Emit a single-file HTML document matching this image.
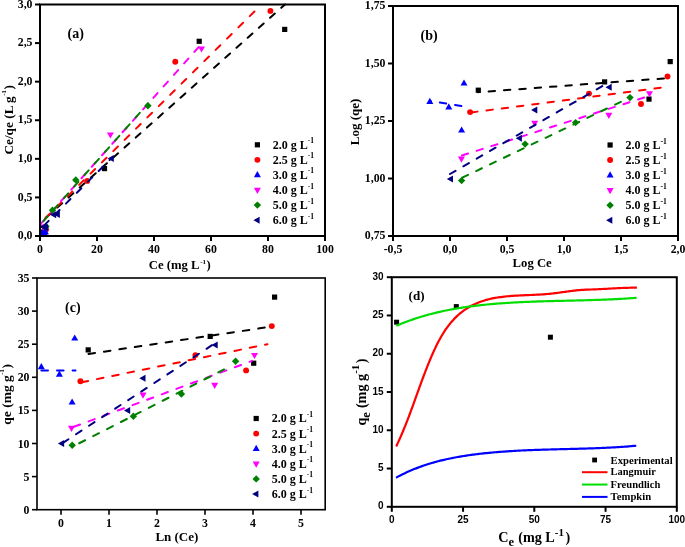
<!DOCTYPE html>
<html><head><meta charset="utf-8"><style>
html,body{margin:0;padding:0;background:#fff;}
svg{display:block;will-change:transform;}
</style></head><body>
<svg width="685" height="547" viewBox="0 0 685 547">
<rect width="685" height="547" fill="#fff"/>
<line x1="40.5" y1="222.5" x2="285" y2="4.5" stroke="#000000" stroke-width="2.0" stroke-dasharray="6.4,8.6" stroke-linecap="round" stroke-dashoffset="7.42"/>
<rect x="39.90" y="229.40" width="5.20" height="5.20" fill="#000000"/>
<rect x="101.90" y="166.00" width="5.20" height="5.20" fill="#000000"/>
<rect x="196.60" y="38.70" width="5.20" height="5.20" fill="#000000"/>
<rect x="282.10" y="26.80" width="5.20" height="5.20" fill="#000000"/>
<line x1="40.5" y1="223" x2="261" y2="5" stroke="#ff0000" stroke-width="2.0" stroke-dasharray="6.6,9.4" stroke-linecap="round" stroke-dashoffset="9.72"/>
<circle cx="46.00" cy="229.40" r="2.95" fill="#ff0000"/>
<circle cx="87.20" cy="180.90" r="2.95" fill="#ff0000"/>
<circle cx="175.30" cy="61.80" r="2.95" fill="#ff0000"/>
<circle cx="270.40" cy="10.90" r="2.95" fill="#ff0000"/>
<line x1="40.5" y1="233" x2="47" y2="229" stroke="#0000ff" stroke-width="2.0" stroke-dasharray="6.4,9.0" stroke-linecap="round"/>
<path d="M42.30,230.10 L45.80,236.30 L38.80,236.30 Z" fill="#0000ff"/>
<path d="M44.80,230.10 L48.30,236.30 L41.30,236.30 Z" fill="#0000ff"/>
<path d="M43.40,228.50 L46.90,234.70 L39.90,234.70 Z" fill="#0000ff"/>
<path d="M45.40,228.10 L48.90,234.30 L41.90,234.30 Z" fill="#0000ff"/>
<line x1="40.5" y1="224.1" x2="200" y2="45.6" stroke="#ff00ff" stroke-width="2.0" stroke-dasharray="6.4,9.0" stroke-linecap="round" stroke-dashoffset="0.06"/>
<path d="M43.50,230.70 L47.00,224.50 L40.00,224.50 Z" fill="#ff00ff"/>
<path d="M110.40,138.60 L113.90,132.40 L106.90,132.40 Z" fill="#ff00ff"/>
<path d="M201.50,52.60 L205.00,46.40 L198.00,46.40 Z" fill="#ff00ff"/>
<line x1="40.5" y1="224.5" x2="148" y2="103.6" stroke="#008000" stroke-width="2.0" stroke-dasharray="6.4,9.0" stroke-linecap="round" stroke-dashoffset="10.94"/>
<path d="M46.00,222.90 L49.70,226.60 L46.00,230.30 L42.30,226.60 Z" fill="#008000"/>
<path d="M52.50,206.60 L56.20,210.30 L52.50,214.00 L48.80,210.30 Z" fill="#008000"/>
<path d="M75.80,176.30 L79.50,180.00 L75.80,183.70 L72.10,180.00 Z" fill="#008000"/>
<path d="M147.90,102.00 L151.60,105.70 L147.90,109.40 L144.20,105.70 Z" fill="#008000"/>
<line x1="40.5" y1="229" x2="111" y2="158.6" stroke="#000080" stroke-width="2.0" stroke-dasharray="6.4,9.0" stroke-linecap="round" stroke-dashoffset="10.25"/>
<path d="M39.50,227.00 L45.70,223.50 L45.70,230.50 Z" fill="#000080"/>
<path d="M41.90,227.40 L48.10,223.90 L48.10,230.90 Z" fill="#000080"/>
<path d="M50.00,214.80 L56.20,211.30 L56.20,218.30 Z" fill="#000080"/>
<path d="M53.70,214.50 L59.90,211.00 L59.90,218.00 Z" fill="#000080"/>
<path d="M107.60,158.60 L113.80,155.10 L113.80,162.10 Z" fill="#000080"/>
<rect x="40" y="4.5" width="285" height="231.5" fill="none" stroke="#000" stroke-width="2"/>
<line x1="40.0" y1="236" x2="40.0" y2="241" stroke="#000" stroke-width="2"/>
<text x="40.0" y="253.1" font-family='"Liberation Serif", serif' font-size="11.8" font-weight="bold" text-anchor="middle" >0</text>
<line x1="97.0" y1="236" x2="97.0" y2="241" stroke="#000" stroke-width="2"/>
<text x="97.0" y="253.1" font-family='"Liberation Serif", serif' font-size="11.8" font-weight="bold" text-anchor="middle" >20</text>
<line x1="154.0" y1="236" x2="154.0" y2="241" stroke="#000" stroke-width="2"/>
<text x="154.0" y="253.1" font-family='"Liberation Serif", serif' font-size="11.8" font-weight="bold" text-anchor="middle" >40</text>
<line x1="211.0" y1="236" x2="211.0" y2="241" stroke="#000" stroke-width="2"/>
<text x="211.0" y="253.1" font-family='"Liberation Serif", serif' font-size="11.8" font-weight="bold" text-anchor="middle" >60</text>
<line x1="268.0" y1="236" x2="268.0" y2="241" stroke="#000" stroke-width="2"/>
<text x="268.0" y="253.1" font-family='"Liberation Serif", serif' font-size="11.8" font-weight="bold" text-anchor="middle" >80</text>
<line x1="325.0" y1="236" x2="325.0" y2="241" stroke="#000" stroke-width="2"/>
<text x="325.0" y="253.1" font-family='"Liberation Serif", serif' font-size="11.8" font-weight="bold" text-anchor="middle" >100</text>
<line x1="35" y1="236.0" x2="40" y2="236.0" stroke="#000" stroke-width="2"/>
<text x="32.5" y="239.112" font-family='"Liberation Serif", serif' font-size="11.8" font-weight="bold" text-anchor="end" >0,0</text>
<line x1="35" y1="197.41666666666666" x2="40" y2="197.41666666666666" stroke="#000" stroke-width="2"/>
<text x="32.5" y="200.52866666666665" font-family='"Liberation Serif", serif' font-size="11.8" font-weight="bold" text-anchor="end" >0,5</text>
<line x1="35" y1="158.83333333333331" x2="40" y2="158.83333333333331" stroke="#000" stroke-width="2"/>
<text x="32.5" y="161.9453333333333" font-family='"Liberation Serif", serif' font-size="11.8" font-weight="bold" text-anchor="end" >1,0</text>
<line x1="35" y1="120.25" x2="40" y2="120.25" stroke="#000" stroke-width="2"/>
<text x="32.5" y="123.362" font-family='"Liberation Serif", serif' font-size="11.8" font-weight="bold" text-anchor="end" >1,5</text>
<line x1="35" y1="81.66666666666666" x2="40" y2="81.66666666666666" stroke="#000" stroke-width="2"/>
<text x="32.5" y="84.77866666666665" font-family='"Liberation Serif", serif' font-size="11.8" font-weight="bold" text-anchor="end" >2,0</text>
<line x1="35" y1="43.08333333333334" x2="40" y2="43.08333333333334" stroke="#000" stroke-width="2"/>
<text x="32.5" y="46.195333333333345" font-family='"Liberation Serif", serif' font-size="11.8" font-weight="bold" text-anchor="end" >2,5</text>
<line x1="35" y1="4.5" x2="40" y2="4.5" stroke="#000" stroke-width="2"/>
<text x="32.5" y="7.612" font-family='"Liberation Serif", serif' font-size="11.8" font-weight="bold" text-anchor="end" >3,0</text>
<text x="67.5" y="38" font-family='"Liberation Serif", serif' font-size="14" font-weight="bold" text-anchor="start" >(a)</text>
<rect x="254.80" y="142.20" width="5.20" height="5.20" fill="#000000"/>
<text x="272.7" y="148.70000000000002" font-family='"Liberation Serif", serif' font-size="12" font-weight="bold" text-anchor="start" >2.0 g L<tspan dy="-5.4" font-size="7.6">-1</tspan></text>
<circle cx="257.40" cy="159.87" r="2.95" fill="#ff0000"/>
<text x="272.7" y="163.77" font-family='"Liberation Serif", serif' font-size="12" font-weight="bold" text-anchor="start" >2.5 g L<tspan dy="-5.4" font-size="7.6">-1</tspan></text>
<path d="M257.40,171.04 L260.90,177.24 L253.90,177.24 Z" fill="#0000ff"/>
<text x="272.7" y="178.84" font-family='"Liberation Serif", serif' font-size="12" font-weight="bold" text-anchor="start" >3.0 g L<tspan dy="-5.4" font-size="7.6">-1</tspan></text>
<path d="M257.40,194.01 L260.90,187.81 L253.90,187.81 Z" fill="#ff00ff"/>
<text x="272.7" y="193.91000000000003" font-family='"Liberation Serif", serif' font-size="12" font-weight="bold" text-anchor="start" >4.0 g L<tspan dy="-5.4" font-size="7.6">-1</tspan></text>
<path d="M257.40,201.38 L261.10,205.08 L257.40,208.78 L253.70,205.08 Z" fill="#008000"/>
<text x="272.7" y="208.98000000000002" font-family='"Liberation Serif", serif' font-size="12" font-weight="bold" text-anchor="start" >5.0 g L<tspan dy="-5.4" font-size="7.6">-1</tspan></text>
<path d="M253.40,220.15 L259.60,216.65 L259.60,223.65 Z" fill="#000080"/>
<text x="272.7" y="224.05" font-family='"Liberation Serif", serif' font-size="12" font-weight="bold" text-anchor="start" >6.0 g L<tspan dy="-5.4" font-size="7.6">-1</tspan></text>
<text x="148.8" y="268.6" font-family='"Liberation Serif", serif' font-size="12.7" font-weight="bold" text-anchor="start" >Ce (mg L<tspan dy="-4.8" font-size="7" dx="0.6">-1</tspan><tspan dy="4.8" dx="0.6">)</tspan></text>
<text x="13.2" y="154.6" font-family='"Liberation Serif", serif' font-size="13.3" font-weight="bold" text-anchor="start" transform="rotate(-90 13.2 154.6)">Ce/qe (L g<tspan dy="-7.4" font-size="6.8" dx="0.4">-1</tspan><tspan dy="7.4" dx="0.6">)</tspan></text>
<line x1="478" y1="92.2" x2="667" y2="78.2" stroke="#000000" stroke-width="2.0" stroke-dasharray="6.4,9.0" stroke-linecap="round" stroke-dashoffset="4.77"/>
<rect x="475.70" y="87.60" width="5.20" height="5.20" fill="#000000"/>
<rect x="602.00" y="79.30" width="5.20" height="5.20" fill="#000000"/>
<rect x="646.40" y="96.50" width="5.20" height="5.20" fill="#000000"/>
<rect x="667.60" y="59.00" width="5.20" height="5.20" fill="#000000"/>
<line x1="470" y1="112.6" x2="664" y2="87.3" stroke="#ff0000" stroke-width="2.0" stroke-dasharray="6.4,9.0" stroke-linecap="round" stroke-dashoffset="14.21"/>
<circle cx="470.10" cy="112.10" r="2.95" fill="#ff0000"/>
<circle cx="589.00" cy="93.60" r="2.95" fill="#ff0000"/>
<circle cx="641.00" cy="104.00" r="2.95" fill="#ff0000"/>
<circle cx="667.50" cy="76.50" r="2.95" fill="#ff0000"/>
<line x1="430" y1="101" x2="463" y2="106.3" stroke="#0000ff" stroke-width="2.0" stroke-dasharray="6.4,9.0" stroke-linecap="round" stroke-dashoffset="5.45"/>
<path d="M429.80,97.80 L433.30,104.00 L426.30,104.00 Z" fill="#0000ff"/>
<path d="M448.80,103.20 L452.30,109.40 L445.30,109.40 Z" fill="#0000ff"/>
<path d="M464.00,79.40 L467.50,85.60 L460.50,85.60 Z" fill="#0000ff"/>
<path d="M461.60,126.40 L465.10,132.60 L458.10,132.60 Z" fill="#0000ff"/>
<line x1="461" y1="155.8" x2="651" y2="95.4" stroke="#ff00ff" stroke-width="2.0" stroke-dasharray="6.4,9.0" stroke-linecap="round" stroke-dashoffset="14.40"/>
<path d="M461.40,162.80 L464.90,156.60 L457.90,156.60 Z" fill="#ff00ff"/>
<path d="M534.70,126.90 L538.20,120.70 L531.20,120.70 Z" fill="#ff00ff"/>
<path d="M608.80,118.90 L612.30,112.70 L605.30,112.70 Z" fill="#ff00ff"/>
<path d="M649.50,97.40 L653.00,91.20 L646.00,91.20 Z" fill="#ff00ff"/>
<line x1="460.5" y1="178.5" x2="630" y2="97.5" stroke="#008000" stroke-width="2.0" stroke-dasharray="6.4,9.0" stroke-linecap="round" stroke-dashoffset="13.47"/>
<path d="M461.60,176.90 L465.30,180.60 L461.60,184.30 L457.90,180.60 Z" fill="#008000"/>
<path d="M525.10,140.40 L528.80,144.10 L525.10,147.80 L521.40,144.10 Z" fill="#008000"/>
<path d="M575.60,118.90 L579.30,122.60 L575.60,126.30 L571.90,122.60 Z" fill="#008000"/>
<path d="M630.00,93.90 L633.70,97.60 L630.00,101.30 L626.30,97.60 Z" fill="#008000"/>
<line x1="450" y1="174" x2="606" y2="84" stroke="#000080" stroke-width="2.0" stroke-dasharray="6.4,9.0" stroke-linecap="round"/>
<path d="M446.80,179.10 L453.00,175.60 L453.00,182.60 Z" fill="#000080"/>
<path d="M515.70,138.20 L521.90,134.70 L521.90,141.70 Z" fill="#000080"/>
<path d="M531.10,109.90 L537.30,106.40 L537.30,113.40 Z" fill="#000080"/>
<path d="M605.50,87.20 L611.70,83.70 L611.70,90.70 Z" fill="#000080"/>
<rect x="393" y="6" width="285" height="230" fill="none" stroke="#000" stroke-width="2"/>
<line x1="393.0" y1="236" x2="393.0" y2="241" stroke="#000" stroke-width="2"/>
<text x="393.0" y="253.1" font-family='"Liberation Serif", serif' font-size="11.8" font-weight="bold" text-anchor="middle" >-0,5</text>
<line x1="450.0" y1="236" x2="450.0" y2="241" stroke="#000" stroke-width="2"/>
<text x="450.0" y="253.1" font-family='"Liberation Serif", serif' font-size="11.8" font-weight="bold" text-anchor="middle" >0,0</text>
<line x1="507.0" y1="236" x2="507.0" y2="241" stroke="#000" stroke-width="2"/>
<text x="507.0" y="253.1" font-family='"Liberation Serif", serif' font-size="11.8" font-weight="bold" text-anchor="middle" >0,5</text>
<line x1="564.0" y1="236" x2="564.0" y2="241" stroke="#000" stroke-width="2"/>
<text x="564.0" y="253.1" font-family='"Liberation Serif", serif' font-size="11.8" font-weight="bold" text-anchor="middle" >1,0</text>
<line x1="621.0" y1="236" x2="621.0" y2="241" stroke="#000" stroke-width="2"/>
<text x="621.0" y="253.1" font-family='"Liberation Serif", serif' font-size="11.8" font-weight="bold" text-anchor="middle" >1,5</text>
<line x1="678.0" y1="236" x2="678.0" y2="241" stroke="#000" stroke-width="2"/>
<text x="678.0" y="253.1" font-family='"Liberation Serif", serif' font-size="11.8" font-weight="bold" text-anchor="middle" >2,0</text>
<line x1="388" y1="236.0" x2="393" y2="236.0" stroke="#000" stroke-width="2"/>
<text x="385.5" y="239.112" font-family='"Liberation Serif", serif' font-size="11.8" font-weight="bold" text-anchor="end" >0,75</text>
<line x1="388" y1="178.5" x2="393" y2="178.5" stroke="#000" stroke-width="2"/>
<text x="385.5" y="181.612" font-family='"Liberation Serif", serif' font-size="11.8" font-weight="bold" text-anchor="end" >1,00</text>
<line x1="388" y1="121.0" x2="393" y2="121.0" stroke="#000" stroke-width="2"/>
<text x="385.5" y="124.112" font-family='"Liberation Serif", serif' font-size="11.8" font-weight="bold" text-anchor="end" >1,25</text>
<line x1="388" y1="63.5" x2="393" y2="63.5" stroke="#000" stroke-width="2"/>
<text x="385.5" y="66.612" font-family='"Liberation Serif", serif' font-size="11.8" font-weight="bold" text-anchor="end" >1,50</text>
<line x1="388" y1="6.0" x2="393" y2="6.0" stroke="#000" stroke-width="2"/>
<text x="385.5" y="9.112" font-family='"Liberation Serif", serif' font-size="11.8" font-weight="bold" text-anchor="end" >1,75</text>
<text x="420.5" y="39.5" font-family='"Liberation Serif", serif' font-size="14" font-weight="bold" text-anchor="start" >(b)</text>
<rect x="607.50" y="142.40" width="5.20" height="5.20" fill="#000000"/>
<text x="625.4" y="148.9" font-family='"Liberation Serif", serif' font-size="12" font-weight="bold" text-anchor="start" >2.0 g L<tspan dy="-5.4" font-size="7.6">-1</tspan></text>
<circle cx="610.10" cy="160.07" r="2.95" fill="#ff0000"/>
<text x="625.4" y="163.97" font-family='"Liberation Serif", serif' font-size="12" font-weight="bold" text-anchor="start" >2.5 g L<tspan dy="-5.4" font-size="7.6">-1</tspan></text>
<path d="M610.10,171.24 L613.60,177.44 L606.60,177.44 Z" fill="#0000ff"/>
<text x="625.4" y="179.04" font-family='"Liberation Serif", serif' font-size="12" font-weight="bold" text-anchor="start" >3.0 g L<tspan dy="-5.4" font-size="7.6">-1</tspan></text>
<path d="M610.10,194.21 L613.60,188.01 L606.60,188.01 Z" fill="#ff00ff"/>
<text x="625.4" y="194.11" font-family='"Liberation Serif", serif' font-size="12" font-weight="bold" text-anchor="start" >4.0 g L<tspan dy="-5.4" font-size="7.6">-1</tspan></text>
<path d="M610.10,201.58 L613.80,205.28 L610.10,208.98 L606.40,205.28 Z" fill="#008000"/>
<text x="625.4" y="209.18" font-family='"Liberation Serif", serif' font-size="12" font-weight="bold" text-anchor="start" >5.0 g L<tspan dy="-5.4" font-size="7.6">-1</tspan></text>
<path d="M606.10,220.35 L612.30,216.85 L612.30,223.85 Z" fill="#000080"/>
<text x="625.4" y="224.25" font-family='"Liberation Serif", serif' font-size="12" font-weight="bold" text-anchor="start" >6.0 g L<tspan dy="-5.4" font-size="7.6">-1</tspan></text>
<text x="512.6" y="266.9" font-family='"Liberation Serif", serif' font-size="12.7" font-weight="bold" text-anchor="start" >Log Ce</text>
<text x="359" y="145.2" font-family='"Liberation Serif", serif' font-size="13" font-weight="bold" text-anchor="start" transform="rotate(-90 359 145.2)">Log (qe)</text>
<line x1="88.2" y1="354" x2="272" y2="326.5" stroke="#000000" stroke-width="2.0" stroke-dasharray="6.6,9.0" stroke-linecap="round" stroke-dashoffset="15.28"/>
<rect x="85.60" y="347.30" width="5.20" height="5.20" fill="#000000"/>
<rect x="207.60" y="333.80" width="5.20" height="5.20" fill="#000000"/>
<rect x="251.10" y="360.60" width="5.20" height="5.20" fill="#000000"/>
<rect x="272.00" y="294.50" width="5.20" height="5.20" fill="#000000"/>
<line x1="80.4" y1="382.5" x2="267.5" y2="344.2" stroke="#ff0000" stroke-width="2.0" stroke-dasharray="6.6,9.0" stroke-linecap="round" stroke-dashoffset="14.31"/>
<circle cx="80.40" cy="381.20" r="2.95" fill="#ff0000"/>
<circle cx="195.40" cy="355.10" r="2.95" fill="#ff0000"/>
<circle cx="246.10" cy="370.40" r="2.95" fill="#ff0000"/>
<circle cx="271.80" cy="326.10" r="2.95" fill="#ff0000"/>
<line x1="40.5" y1="370.5" x2="75.5" y2="370.5" stroke="#0000ff" stroke-width="2.0" stroke-dasharray="6.6,9.0" stroke-linecap="round" stroke-dashoffset="14.70"/>
<path d="M74.70,334.40 L78.20,340.60 L71.20,340.60 Z" fill="#0000ff"/>
<path d="M41.30,363.10 L44.80,369.30 L37.80,369.30 Z" fill="#0000ff"/>
<path d="M59.40,370.50 L62.90,376.70 L55.90,376.70 Z" fill="#0000ff"/>
<path d="M72.10,398.40 L75.60,404.60 L68.60,404.60 Z" fill="#0000ff"/>
<line x1="71.5" y1="427.7" x2="252" y2="360.9" stroke="#ff00ff" stroke-width="2.0" stroke-dasharray="6.6,9.0" stroke-linecap="round" stroke-dashoffset="13.01"/>
<path d="M71.50,432.00 L75.00,425.80 L68.00,425.80 Z" fill="#ff00ff"/>
<path d="M143.00,398.70 L146.50,392.50 L139.50,392.50 Z" fill="#ff00ff"/>
<path d="M214.70,388.90 L218.20,382.70 L211.20,382.70 Z" fill="#ff00ff"/>
<path d="M254.50,359.10 L258.00,352.90 L251.00,352.90 Z" fill="#ff00ff"/>
<line x1="71.5" y1="447.2" x2="232" y2="365.4" stroke="#008000" stroke-width="2.0" stroke-dasharray="6.6,9.0" stroke-linecap="round" stroke-dashoffset="6.91"/>
<path d="M72.20,441.60 L75.90,445.30 L72.20,449.00 L68.50,445.30 Z" fill="#008000"/>
<path d="M133.40,412.60 L137.10,416.30 L133.40,420.00 L129.70,416.30 Z" fill="#008000"/>
<path d="M181.40,390.30 L185.10,394.00 L181.40,397.70 L177.70,394.00 Z" fill="#008000"/>
<path d="M235.60,357.50 L239.30,361.20 L235.60,364.90 L231.90,361.20 Z" fill="#008000"/>
<line x1="61" y1="444.1" x2="212" y2="345.2" stroke="#000080" stroke-width="2.0" stroke-dasharray="6.6,9.0" stroke-linecap="round" stroke-dashoffset="13.28"/>
<path d="M57.90,443.60 L64.10,440.10 L64.10,447.10 Z" fill="#000080"/>
<path d="M124.00,410.60 L130.20,407.10 L130.20,414.10 Z" fill="#000080"/>
<path d="M139.30,378.20 L145.50,374.70 L145.50,381.70 Z" fill="#000080"/>
<path d="M211.50,345.10 L217.70,341.60 L217.70,348.60 Z" fill="#000080"/>
<rect x="37" y="278" width="288.2" height="231.7" fill="none" stroke="#000" stroke-width="1.6"/>
<line x1="61" y1="509.7" x2="61" y2="514.7" stroke="#000" stroke-width="1.6"/>
<text x="61" y="527" font-family='"Liberation Serif", serif' font-size="11.8" font-weight="bold" text-anchor="middle" >0</text>
<line x1="109" y1="509.7" x2="109" y2="514.7" stroke="#000" stroke-width="1.6"/>
<text x="109" y="527" font-family='"Liberation Serif", serif' font-size="11.8" font-weight="bold" text-anchor="middle" >1</text>
<line x1="157" y1="509.7" x2="157" y2="514.7" stroke="#000" stroke-width="1.6"/>
<text x="157" y="527" font-family='"Liberation Serif", serif' font-size="11.8" font-weight="bold" text-anchor="middle" >2</text>
<line x1="205" y1="509.7" x2="205" y2="514.7" stroke="#000" stroke-width="1.6"/>
<text x="205" y="527" font-family='"Liberation Serif", serif' font-size="11.8" font-weight="bold" text-anchor="middle" >3</text>
<line x1="253" y1="509.7" x2="253" y2="514.7" stroke="#000" stroke-width="1.6"/>
<text x="253" y="527" font-family='"Liberation Serif", serif' font-size="11.8" font-weight="bold" text-anchor="middle" >4</text>
<line x1="301" y1="509.7" x2="301" y2="514.7" stroke="#000" stroke-width="1.6"/>
<text x="301" y="527" font-family='"Liberation Serif", serif' font-size="11.8" font-weight="bold" text-anchor="middle" >5</text>
<line x1="32" y1="509.7" x2="37" y2="509.7" stroke="#000" stroke-width="1.6"/>
<text x="29.5" y="513.712" font-family='"Liberation Serif", serif' font-size="11.8" font-weight="bold" text-anchor="end" >0</text>
<line x1="32" y1="476.59999999999997" x2="37" y2="476.59999999999997" stroke="#000" stroke-width="1.6"/>
<text x="29.5" y="480.61199999999997" font-family='"Liberation Serif", serif' font-size="11.8" font-weight="bold" text-anchor="end" >5</text>
<line x1="32" y1="443.5" x2="37" y2="443.5" stroke="#000" stroke-width="1.6"/>
<text x="29.5" y="447.512" font-family='"Liberation Serif", serif' font-size="11.8" font-weight="bold" text-anchor="end" >10</text>
<line x1="32" y1="410.4" x2="37" y2="410.4" stroke="#000" stroke-width="1.6"/>
<text x="29.5" y="414.412" font-family='"Liberation Serif", serif' font-size="11.8" font-weight="bold" text-anchor="end" >15</text>
<line x1="32" y1="377.29999999999995" x2="37" y2="377.29999999999995" stroke="#000" stroke-width="1.6"/>
<text x="29.5" y="381.31199999999995" font-family='"Liberation Serif", serif' font-size="11.8" font-weight="bold" text-anchor="end" >20</text>
<line x1="32" y1="344.2" x2="37" y2="344.2" stroke="#000" stroke-width="1.6"/>
<text x="29.5" y="348.212" font-family='"Liberation Serif", serif' font-size="11.8" font-weight="bold" text-anchor="end" >25</text>
<line x1="32" y1="311.1" x2="37" y2="311.1" stroke="#000" stroke-width="1.6"/>
<text x="29.5" y="315.112" font-family='"Liberation Serif", serif' font-size="11.8" font-weight="bold" text-anchor="end" >30</text>
<line x1="32" y1="278.0" x2="37" y2="278.0" stroke="#000" stroke-width="1.6"/>
<text x="29.5" y="282.012" font-family='"Liberation Serif", serif' font-size="11.8" font-weight="bold" text-anchor="end" >35</text>
<text x="65" y="312" font-family='"Liberation Serif", serif' font-size="14" font-weight="bold" text-anchor="start" >(c)</text>
<rect x="253.60" y="415.90" width="5.20" height="5.20" fill="#000000"/>
<text x="271.8" y="422.4" font-family='"Liberation Serif", serif' font-size="12" font-weight="bold" text-anchor="start" >2.0 g L<tspan dy="-5.4" font-size="7.6">-1</tspan></text>
<circle cx="256.20" cy="433.60" r="2.95" fill="#ff0000"/>
<text x="271.8" y="437.5" font-family='"Liberation Serif", serif' font-size="12" font-weight="bold" text-anchor="start" >2.5 g L<tspan dy="-5.4" font-size="7.6">-1</tspan></text>
<path d="M256.20,444.80 L259.70,451.00 L252.70,451.00 Z" fill="#0000ff"/>
<text x="271.8" y="452.59999999999997" font-family='"Liberation Serif", serif' font-size="12" font-weight="bold" text-anchor="start" >3.0 g L<tspan dy="-5.4" font-size="7.6">-1</tspan></text>
<path d="M256.20,467.80 L259.70,461.60 L252.70,461.60 Z" fill="#ff00ff"/>
<text x="271.8" y="467.7" font-family='"Liberation Serif", serif' font-size="12" font-weight="bold" text-anchor="start" >4.0 g L<tspan dy="-5.4" font-size="7.6">-1</tspan></text>
<path d="M256.20,475.20 L259.90,478.90 L256.20,482.60 L252.50,478.90 Z" fill="#008000"/>
<text x="271.8" y="482.79999999999995" font-family='"Liberation Serif", serif' font-size="12" font-weight="bold" text-anchor="start" >5.0 g L<tspan dy="-5.4" font-size="7.6">-1</tspan></text>
<path d="M252.20,494.00 L258.40,490.50 L258.40,497.50 Z" fill="#000080"/>
<text x="271.8" y="497.9" font-family='"Liberation Serif", serif' font-size="12" font-weight="bold" text-anchor="start" >6.0 g L<tspan dy="-5.4" font-size="7.6">-1</tspan></text>
<text x="155.4" y="540.7" font-family='"Liberation Serif", serif' font-size="13" font-weight="bold" text-anchor="start" >Ln (Ce)</text>
<text x="11.4" y="424.7" font-family='"Liberation Serif", serif' font-size="13.5" font-weight="bold" text-anchor="start" transform="rotate(-90 11.4 424.7)">qe (mg g<tspan dy="-7.4" font-size="6.8" dx="0.4">-1</tspan><tspan dy="7.4" dx="0.6">)</tspan></text>
<rect x="394.10" y="319.70" width="5.00" height="5.00" fill="#000000"/>
<rect x="453.80" y="304.10" width="5.00" height="5.00" fill="#000000"/>
<rect x="547.90" y="334.70" width="5.00" height="5.00" fill="#000000"/>
<path d="M396.22,446.43 C396.41,446.03 396.98,444.84 397.35,444.04 C397.72,443.25 398.09,442.46 398.45,441.66 C398.81,440.87 399.17,440.06 399.53,439.27 C399.88,438.47 400.23,437.68 400.58,436.89 C400.93,436.10 401.27,435.31 401.61,434.52 C401.95,433.73 402.28,432.94 402.61,432.15 C402.94,431.36 403.27,430.57 403.6,429.78 C403.93,428.99 404.25,428.20 404.57,427.41 C404.89,426.62 405.20,425.84 405.52,425.05 C405.83,424.26 406.15,423.47 406.46,422.68 C406.77,421.89 407.08,421.12 407.38,420.33 C407.68,419.54 407.98,418.76 408.28,417.97 C408.58,417.18 408.88,416.40 409.18,415.61 C409.48,414.82 409.77,414.04 410.06,413.26 C410.35,412.48 410.65,411.69 410.94,410.91 C411.23,410.13 411.51,409.34 411.8,408.56 C412.09,407.78 412.38,406.99 412.66,406.21 C412.95,405.43 413.23,404.64 413.51,403.86 C413.79,403.08 414.08,402.29 414.36,401.51 C414.64,400.73 414.93,399.94 415.21,399.16 C415.49,398.38 415.77,397.59 416.05,396.81 C416.33,396.03 416.61,395.24 416.89,394.46 C417.17,393.68 417.46,392.89 417.74,392.11 C418.02,391.33 418.30,390.54 418.58,389.76 C418.86,388.98 419.14,388.19 419.43,387.41 C419.72,386.63 420.00,385.85 420.29,385.06 C420.58,384.27 420.86,383.49 421.15,382.7 C421.44,381.91 421.72,381.13 422.01,380.35 C422.30,379.57 422.60,378.78 422.89,377.99 C423.18,377.20 423.47,376.42 423.77,375.63 C424.07,374.84 424.37,374.06 424.67,373.27 C424.97,372.48 425.27,371.70 425.58,370.91 C425.88,370.12 426.19,369.33 426.5,368.54 C426.81,367.75 427.12,366.96 427.44,366.17 C427.75,365.38 428.07,364.59 428.39,363.8 C428.71,363.01 429.04,362.21 429.37,361.42 C429.70,360.63 430.03,359.83 430.36,359.04 C430.69,358.25 431.03,357.45 431.37,356.66 C431.71,355.87 432.05,355.07 432.4,354.28 C432.75,353.49 433.10,352.69 433.46,351.9 C433.82,351.11 434.18,350.33 434.55,349.54 C434.92,348.75 435.28,347.96 435.66,347.18 C436.04,346.40 436.42,345.62 436.81,344.84 C437.20,344.06 437.59,343.29 437.99,342.52 C438.39,341.75 438.79,340.99 439.2,340.23 C439.61,339.47 440.03,338.71 440.45,337.96 C440.87,337.21 441.30,336.46 441.74,335.72 C442.18,334.98 442.63,334.25 443.08,333.52 C443.53,332.79 443.98,332.07 444.45,331.36 C444.92,330.65 445.40,329.94 445.88,329.24 C446.36,328.54 446.85,327.84 447.35,327.16 C447.85,326.48 448.36,325.81 448.87,325.14 C449.38,324.47 449.91,323.82 450.44,323.17 C450.97,322.52 451.52,321.88 452.07,321.25 C452.62,320.62 453.18,320.01 453.75,319.4 C454.32,318.79 454.90,318.19 455.49,317.61 C456.08,317.03 456.68,316.45 457.29,315.89 C457.90,315.33 458.52,314.78 459.15,314.24 C459.78,313.70 460.41,313.18 461.05,312.66 C461.69,312.15 462.35,311.64 463.01,311.15 C463.67,310.66 464.34,310.18 465.02,309.71 C465.70,309.24 466.38,308.79 467.08,308.35 C467.77,307.91 468.48,307.48 469.19,307.06 C469.90,306.64 470.62,306.23 471.34,305.84 C472.06,305.45 472.79,305.07 473.53,304.71 C474.27,304.34 475.02,303.99 475.77,303.65 C476.52,303.31 477.29,302.99 478.05,302.68 C478.81,302.37 479.58,302.07 480.36,301.79 C481.14,301.51 481.92,301.24 482.71,300.98 C483.50,300.72 484.29,300.48 485.09,300.24 C485.89,300.00 486.70,299.78 487.51,299.57 C488.32,299.36 489.13,299.16 489.95,298.97 C490.77,298.78 491.59,298.60 492.41,298.43 C493.23,298.26 494.06,298.10 494.89,297.95 C495.72,297.80 496.55,297.65 497.39,297.52 C498.23,297.38 499.07,297.26 499.91,297.14 C500.75,297.02 501.60,296.91 502.44,296.81 C503.28,296.71 504.13,296.61 504.98,296.52 C505.83,296.43 506.67,296.35 507.52,296.27 C508.37,296.19 509.22,296.12 510.07,296.05 C510.92,295.98 511.78,295.92 512.63,295.86 C513.48,295.80 514.33,295.74 515.18,295.69 C516.03,295.64 516.88,295.59 517.74,295.54 C518.60,295.50 519.45,295.46 520.31,295.42 C521.16,295.38 522.02,295.34 522.87,295.3 C523.72,295.26 524.57,295.23 525.43,295.19 C526.28,295.15 527.14,295.12 528.0,295.09 C528.86,295.05 529.72,295.02 530.57,294.98 C531.43,294.94 532.28,294.91 533.13,294.87 C533.98,294.83 534.84,294.80 535.69,294.76 C536.54,294.72 537.40,294.68 538.25,294.63 C539.10,294.58 539.96,294.53 540.81,294.48 C541.66,294.43 542.52,294.38 543.37,294.32 C544.22,294.26 545.07,294.20 545.92,294.13 C546.77,294.06 547.61,293.99 548.46,293.91 C549.31,293.83 550.15,293.74 551.0,293.65 C551.85,293.56 552.69,293.47 553.54,293.37 C554.38,293.27 555.23,293.16 556.07,293.05 C556.91,292.94 557.76,292.83 558.6,292.72 C559.44,292.61 560.28,292.49 561.12,292.37 C561.96,292.25 562.80,292.13 563.64,292.01 C564.48,291.89 565.31,291.78 566.15,291.66 C566.99,291.54 567.82,291.42 568.66,291.31 C569.50,291.20 570.33,291.09 571.17,290.98 C572.01,290.88 572.84,290.78 573.68,290.68 C574.51,290.58 575.35,290.49 576.18,290.4 C577.01,290.31 577.84,290.23 578.68,290.16 C579.51,290.09 580.36,290.02 581.19,289.96 C582.03,289.90 582.86,289.85 583.69,289.8 C584.52,289.75 585.36,289.72 586.19,289.68 C587.02,289.64 587.86,289.61 588.69,289.58 C589.53,289.55 590.37,289.52 591.2,289.49 C592.04,289.46 592.87,289.43 593.7,289.4 C594.54,289.37 595.37,289.34 596.21,289.3 C597.05,289.26 597.88,289.23 598.72,289.19 C599.56,289.15 600.39,289.11 601.23,289.07 C602.07,289.03 602.90,288.98 603.74,288.93 C604.58,288.88 605.42,288.84 606.26,288.79 C607.10,288.74 607.94,288.70 608.78,288.65 C609.62,288.60 610.47,288.55 611.31,288.5 C612.15,288.45 613.00,288.41 613.84,288.36 C614.69,288.31 615.53,288.27 616.38,288.23 C617.23,288.19 618.07,288.14 618.92,288.1 C619.77,288.06 620.62,288.03 621.47,287.99 C622.32,287.95 623.17,287.92 624.02,287.89 C624.87,287.86 625.73,287.82 626.58,287.8 C627.44,287.78 628.29,287.75 629.15,287.74 C630.01,287.73 630.87,287.72 631.73,287.71 C632.59,287.70 633.45,287.70 634.31,287.7 C635.17,287.70 636.48,287.72 636.91,287.72" fill="none" stroke="#ff0000" stroke-width="2.2" stroke-linecap="butt"/>
<path d="M396.28,325.83 C396.68,325.66 397.87,325.15 398.66,324.82 C399.45,324.49 400.25,324.16 401.04,323.84 C401.84,323.52 402.63,323.20 403.43,322.89 C404.23,322.58 405.02,322.27 405.82,321.97 C406.62,321.67 407.42,321.36 408.22,321.07 C409.02,320.78 409.82,320.49 410.62,320.21 C411.42,319.93 412.23,319.64 413.03,319.37 C413.83,319.10 414.63,318.83 415.44,318.56 C416.25,318.29 417.05,318.03 417.86,317.77 C418.67,317.51 419.47,317.27 420.28,317.02 C421.09,316.77 421.90,316.52 422.71,316.28 C423.52,316.04 424.33,315.81 425.14,315.58 C425.95,315.35 426.77,315.12 427.58,314.89 C428.39,314.66 429.20,314.44 430.02,314.23 C430.83,314.02 431.65,313.81 432.47,313.6 C433.29,313.39 434.10,313.18 434.92,312.98 C435.74,312.78 436.55,312.58 437.37,312.39 C438.19,312.20 439.01,312.01 439.83,311.83 C440.65,311.64 441.47,311.46 442.29,311.28 C443.11,311.10 443.94,310.92 444.76,310.75 C445.58,310.58 446.41,310.42 447.23,310.25 C448.05,310.08 448.88,309.92 449.7,309.76 C450.52,309.60 451.35,309.44 452.18,309.29 C453.01,309.14 453.83,309.00 454.66,308.85 C455.49,308.71 456.32,308.56 457.15,308.42 C457.98,308.28 458.80,308.13 459.63,308.0 C460.46,307.87 461.29,307.74 462.12,307.61 C462.95,307.48 463.79,307.35 464.62,307.23 C465.45,307.11 466.29,306.99 467.12,306.87 C467.95,306.75 468.79,306.64 469.62,306.53 C470.45,306.42 471.29,306.30 472.12,306.19 C472.95,306.08 473.79,305.98 474.62,305.88 C475.45,305.78 476.29,305.68 477.13,305.58 C477.97,305.48 478.80,305.38 479.64,305.29 C480.48,305.20 481.32,305.11 482.16,305.02 C483.00,304.93 483.83,304.84 484.67,304.75 C485.51,304.66 486.35,304.58 487.19,304.5 C488.03,304.42 488.87,304.35 489.71,304.27 C490.55,304.19 491.40,304.12 492.24,304.04 C493.08,303.97 493.92,303.89 494.76,303.82 C495.60,303.75 496.45,303.69 497.29,303.62 C498.13,303.55 498.98,303.48 499.82,303.42 C500.66,303.36 501.51,303.30 502.35,303.24 C503.19,303.18 504.04,303.12 504.88,303.06 C505.72,303.00 506.57,302.95 507.41,302.9 C508.25,302.85 509.11,302.79 509.95,302.74 C510.79,302.69 511.63,302.64 512.48,302.59 C513.33,302.54 514.17,302.50 515.02,302.45 C515.87,302.40 516.71,302.35 517.56,302.31 C518.41,302.27 519.25,302.23 520.1,302.19 C520.95,302.15 521.79,302.11 522.64,302.07 C523.49,302.03 524.34,301.99 525.19,301.95 C526.04,301.91 526.88,301.88 527.73,301.85 C528.58,301.82 529.42,301.78 530.27,301.75 C531.12,301.72 531.97,301.68 532.82,301.65 C533.67,301.62 534.51,301.59 535.36,301.56 C536.21,301.53 537.06,301.50 537.91,301.47 C538.76,301.44 539.60,301.42 540.45,301.39 C541.30,301.36 542.15,301.33 543.0,301.31 C543.85,301.29 544.70,301.26 545.55,301.24 C546.40,301.22 547.24,301.19 548.09,301.17 C548.94,301.15 549.79,301.12 550.64,301.1 C551.49,301.08 552.34,301.05 553.19,301.03 C554.04,301.01 554.88,300.99 555.73,300.97 C556.58,300.95 557.43,300.93 558.28,300.91 C559.13,300.89 559.98,300.87 560.83,300.85 C561.68,300.83 562.52,300.81 563.37,300.79 C564.22,300.77 565.07,300.75 565.92,300.73 C566.77,300.71 567.61,300.69 568.46,300.67 C569.31,300.65 570.15,300.63 571.0,300.61 C571.85,300.59 572.70,300.57 573.55,300.55 C574.40,300.53 575.24,300.51 576.09,300.49 C576.94,300.47 577.78,300.45 578.63,300.43 C579.48,300.41 580.32,300.38 581.17,300.36 C582.02,300.34 582.86,300.32 583.71,300.3 C584.56,300.28 585.40,300.25 586.25,300.23 C587.10,300.21 587.93,300.18 588.78,300.16 C589.62,300.14 590.48,300.12 591.32,300.09 C592.17,300.06 593.01,300.04 593.85,300.01 C594.69,299.98 595.54,299.96 596.38,299.93 C597.22,299.90 598.07,299.87 598.91,299.84 C599.75,299.81 600.60,299.78 601.44,299.75 C602.28,299.72 603.12,299.69 603.96,299.66 C604.80,299.63 605.65,299.60 606.49,299.56 C607.33,299.52 608.17,299.49 609.01,299.45 C609.85,299.41 610.69,299.38 611.53,299.34 C612.37,299.30 613.21,299.26 614.05,299.22 C614.89,299.18 615.72,299.14 616.56,299.1 C617.40,299.06 618.23,299.02 619.07,298.97 C619.91,298.93 620.74,298.88 621.58,298.83 C622.42,298.78 623.25,298.73 624.09,298.68 C624.93,298.63 625.76,298.57 626.6,298.52 C627.44,298.47 628.27,298.42 629.1,298.36 C629.93,298.31 630.77,298.25 631.6,298.19 C632.43,298.13 633.26,298.06 634.09,298.0 C634.92,297.94 636.17,297.84 636.58,297.81" fill="none" stroke="#00dd00" stroke-width="2.2" stroke-linecap="butt"/>
<path d="M396.06,477.66 C396.45,477.45 397.61,476.81 398.39,476.4 C399.17,475.99 399.95,475.58 400.73,475.19 C401.51,474.80 402.30,474.41 403.08,474.03 C403.86,473.65 404.64,473.27 405.43,472.9 C406.22,472.53 407.00,472.18 407.79,471.82 C408.58,471.46 409.37,471.11 410.16,470.77 C410.95,470.43 411.74,470.10 412.53,469.77 C413.32,469.44 414.12,469.12 414.92,468.8 C415.72,468.48 416.50,468.17 417.3,467.87 C418.10,467.57 418.90,467.27 419.7,466.98 C420.50,466.69 421.30,466.40 422.1,466.12 C422.90,465.84 423.71,465.56 424.51,465.29 C425.31,465.02 426.12,464.76 426.92,464.5 C427.73,464.24 428.53,463.99 429.34,463.74 C430.15,463.49 430.96,463.26 431.77,463.02 C432.58,462.78 433.39,462.55 434.2,462.32 C435.01,462.09 435.83,461.87 436.64,461.65 C437.45,461.43 438.26,461.22 439.08,461.01 C439.89,460.80 440.71,460.60 441.53,460.4 C442.35,460.20 443.16,460.01 443.98,459.82 C444.80,459.63 445.62,459.44 446.44,459.26 C447.26,459.08 448.08,458.90 448.9,458.73 C449.72,458.56 450.55,458.39 451.37,458.22 C452.19,458.05 453.01,457.89 453.84,457.73 C454.66,457.57 455.49,457.42 456.32,457.27 C457.15,457.12 457.97,456.97 458.8,456.83 C459.63,456.69 460.46,456.54 461.29,456.4 C462.12,456.26 462.95,456.13 463.78,456.0 C464.61,455.87 465.45,455.74 466.28,455.61 C467.11,455.48 467.95,455.36 468.78,455.24 C469.61,455.12 470.44,455.00 471.28,454.89 C472.12,454.77 472.95,454.66 473.79,454.55 C474.63,454.44 475.46,454.34 476.3,454.23 C477.14,454.12 477.97,454.02 478.81,453.92 C479.65,453.82 480.49,453.73 481.33,453.63 C482.17,453.53 483.01,453.44 483.85,453.35 C484.69,453.26 485.54,453.17 486.38,453.08 C487.22,452.99 488.06,452.91 488.9,452.83 C489.74,452.75 490.58,452.67 491.43,452.59 C492.28,452.51 493.12,452.44 493.97,452.36 C494.82,452.29 495.65,452.21 496.5,452.14 C497.35,452.07 498.19,452.00 499.04,451.93 C499.89,451.86 500.73,451.80 501.58,451.74 C502.43,451.68 503.27,451.61 504.12,451.55 C504.97,451.49 505.82,451.43 506.67,451.37 C507.52,451.31 508.36,451.26 509.21,451.21 C510.06,451.16 510.91,451.10 511.76,451.05 C512.61,451.00 513.46,450.95 514.31,450.9 C515.16,450.85 516.01,450.81 516.86,450.76 C517.71,450.71 518.57,450.66 519.42,450.62 C520.27,450.58 521.12,450.54 521.97,450.5 C522.82,450.46 523.68,450.42 524.53,450.38 C525.38,450.34 526.23,450.31 527.08,450.27 C527.93,450.23 528.79,450.20 529.64,450.16 C530.49,450.12 531.35,450.09 532.2,450.06 C533.05,450.03 533.91,449.99 534.76,449.96 C535.61,449.93 536.47,449.90 537.32,449.87 C538.17,449.84 539.03,449.82 539.88,449.79 C540.73,449.76 541.59,449.73 542.44,449.7 C543.29,449.67 544.15,449.65 545.0,449.63 C545.85,449.61 546.71,449.57 547.56,449.55 C548.41,449.53 549.27,449.50 550.12,449.48 C550.97,449.46 551.83,449.43 552.68,449.41 C553.53,449.39 554.39,449.36 555.24,449.34 C556.09,449.32 556.95,449.29 557.8,449.27 C558.65,449.25 559.51,449.23 560.36,449.21 C561.21,449.19 562.07,449.16 562.92,449.14 C563.77,449.12 564.63,449.10 565.48,449.08 C566.33,449.06 567.19,449.04 568.04,449.02 C568.89,449.00 569.75,448.97 570.6,448.95 C571.45,448.93 572.30,448.91 573.15,448.89 C574.00,448.87 574.85,448.84 575.7,448.82 C576.55,448.80 577.41,448.77 578.26,448.75 C579.11,448.73 579.96,448.70 580.81,448.68 C581.66,448.66 582.51,448.63 583.36,448.61 C584.21,448.59 585.05,448.56 585.9,448.53 C586.75,448.50 587.60,448.48 588.45,448.45 C589.30,448.42 590.14,448.40 590.99,448.37 C591.84,448.34 592.68,448.31 593.53,448.28 C594.38,448.25 595.22,448.22 596.07,448.19 C596.92,448.16 597.76,448.12 598.61,448.09 C599.46,448.06 600.30,448.02 601.14,447.99 C601.98,447.96 602.83,447.92 603.67,447.88 C604.51,447.84 605.36,447.80 606.2,447.76 C607.04,447.72 607.88,447.68 608.72,447.64 C609.56,447.60 610.41,447.56 611.25,447.51 C612.09,447.46 612.93,447.42 613.77,447.37 C614.61,447.32 615.44,447.28 616.28,447.23 C617.12,447.18 617.95,447.13 618.79,447.08 C619.63,447.03 620.46,446.98 621.3,446.92 C622.14,446.87 622.97,446.81 623.81,446.75 C624.64,446.69 625.48,446.63 626.31,446.57 C627.14,446.51 627.97,446.44 628.8,446.37 C629.63,446.30 630.47,446.24 631.3,446.17 C632.13,446.10 632.96,446.03 633.79,445.96 C634.62,445.89 635.86,445.78 636.27,445.74" fill="none" stroke="#0000ff" stroke-width="2.2" stroke-linecap="butt"/>
<rect x="391.8" y="277.2" width="284.99999999999994" height="229.60000000000002" fill="none" stroke="#000" stroke-width="2"/>
<line x1="391.8" y1="506.8" x2="391.8" y2="511.8" stroke="#000" stroke-width="2"/>
<text x="391.8" y="523" font-family='"Liberation Sans", sans-serif' font-size="10" font-weight="bold" text-anchor="middle" >0</text>
<line x1="463.05" y1="506.8" x2="463.05" y2="511.8" stroke="#000" stroke-width="2"/>
<text x="463.05" y="523" font-family='"Liberation Sans", sans-serif' font-size="10" font-weight="bold" text-anchor="middle" >25</text>
<line x1="534.3" y1="506.8" x2="534.3" y2="511.8" stroke="#000" stroke-width="2"/>
<text x="534.3" y="523" font-family='"Liberation Sans", sans-serif' font-size="10" font-weight="bold" text-anchor="middle" >50</text>
<line x1="605.55" y1="506.8" x2="605.55" y2="511.8" stroke="#000" stroke-width="2"/>
<text x="605.55" y="523" font-family='"Liberation Sans", sans-serif' font-size="10" font-weight="bold" text-anchor="middle" >75</text>
<line x1="676.8" y1="506.8" x2="676.8" y2="511.8" stroke="#000" stroke-width="2"/>
<text x="676.8" y="523" font-family='"Liberation Sans", sans-serif' font-size="10" font-weight="bold" text-anchor="middle" >100</text>
<line x1="386.8" y1="506.8" x2="391.8" y2="506.8" stroke="#000" stroke-width="2"/>
<text x="383.5" y="509.3" font-family='"Liberation Sans", sans-serif' font-size="10" font-weight="bold" text-anchor="end" >0</text>
<line x1="386.8" y1="468.53333333333336" x2="391.8" y2="468.53333333333336" stroke="#000" stroke-width="2"/>
<text x="383.5" y="471.03333333333336" font-family='"Liberation Sans", sans-serif' font-size="10" font-weight="bold" text-anchor="end" >5</text>
<line x1="386.8" y1="430.26666666666665" x2="391.8" y2="430.26666666666665" stroke="#000" stroke-width="2"/>
<text x="383.5" y="432.76666666666665" font-family='"Liberation Sans", sans-serif' font-size="10" font-weight="bold" text-anchor="end" >10</text>
<line x1="386.8" y1="392.0" x2="391.8" y2="392.0" stroke="#000" stroke-width="2"/>
<text x="383.5" y="394.5" font-family='"Liberation Sans", sans-serif' font-size="10" font-weight="bold" text-anchor="end" >15</text>
<line x1="386.8" y1="353.73333333333335" x2="391.8" y2="353.73333333333335" stroke="#000" stroke-width="2"/>
<text x="383.5" y="356.23333333333335" font-family='"Liberation Sans", sans-serif' font-size="10" font-weight="bold" text-anchor="end" >20</text>
<line x1="386.8" y1="315.46666666666664" x2="391.8" y2="315.46666666666664" stroke="#000" stroke-width="2"/>
<text x="383.5" y="317.96666666666664" font-family='"Liberation Sans", sans-serif' font-size="10" font-weight="bold" text-anchor="end" >25</text>
<line x1="386.8" y1="277.2" x2="391.8" y2="277.2" stroke="#000" stroke-width="2"/>
<text x="383.5" y="279.7" font-family='"Liberation Sans", sans-serif' font-size="10" font-weight="bold" text-anchor="end" >30</text>
<text x="408.6" y="300.3" font-family='"Liberation Serif", serif' font-size="13" font-weight="bold" text-anchor="start" >(d)</text>
<rect x="592.20" y="457.60" width="4.80" height="4.80" fill="#000000"/>
<text x="610.6" y="463.5" font-family='"Liberation Serif", serif' font-size="11.3" font-weight="bold" text-anchor="start" textLength="62" lengthAdjust="spacingAndGlyphs">Experimental</text>
<line x1="582" y1="472.2" x2="607.5" y2="472.2" stroke="#ff0000" stroke-width="2"/>
<text x="610.6" y="475.3" font-family='"Liberation Serif", serif' font-size="11.3" font-weight="bold" text-anchor="start" textLength="45.2" lengthAdjust="spacingAndGlyphs">Langmuir</text>
<line x1="582" y1="484.55" x2="607.5" y2="484.55" stroke="#00dd00" stroke-width="2"/>
<text x="610.6" y="487.65000000000003" font-family='"Liberation Serif", serif' font-size="11.3" font-weight="bold" text-anchor="start" textLength="49.8" lengthAdjust="spacingAndGlyphs">Freundlich</text>
<line x1="582" y1="496.9" x2="607.5" y2="496.9" stroke="#0000ff" stroke-width="2"/>
<text x="610.6" y="500.0" font-family='"Liberation Serif", serif' font-size="11.3" font-weight="bold" text-anchor="start" textLength="40.6" lengthAdjust="spacingAndGlyphs">Tempkin</text>
<text x="498.3" y="542.4" font-family='"Liberation Serif", serif' font-size="14.2" font-weight="bold" text-anchor="start" >C<tspan dy="4" font-size="12.5">e</tspan><tspan dy="-4" dx="0.5"> (mg L</tspan><tspan dy="-6.3" font-size="11">-1</tspan><tspan dy="6.3" dx="1.5">)</tspan></text>
<text x="365.7" y="425.6" font-family='"Liberation Serif", serif' font-size="14.2" font-weight="bold" text-anchor="start" transform="rotate(-90 365.7 425.6)">q<tspan dy="4.5" font-size="12.5">e</tspan><tspan dy="-4.5" dx="0.5"> (mg g</tspan><tspan dy="-6.5" font-size="11">-1</tspan><tspan dy="6.5" dx="1.5">)</tspan></text>
</svg>
</body></html>
